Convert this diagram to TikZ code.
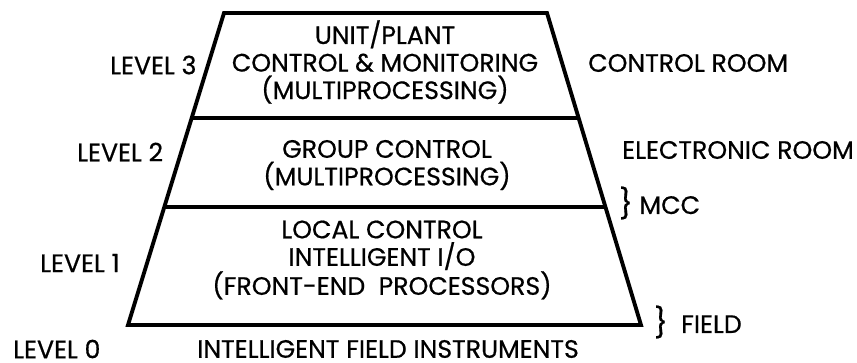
\documentclass[tikz,border=0pt]{standalone}
\usepackage{fontspec}
\setmainfont{Poppins}[FakeBold=0.6]
\usetikzlibrary{calc}
\tikzset{>=latex}
\tikzset{
  txt/.style={font=\fontsize{21.5}{23.5}\selectfont, inner sep=0pt},
  lvl/.style={txt, align=center},
  side/.style={txt, anchor=west},
  wall/.style={line width=3.3pt, line join=miter}
}
\newcommand{\bigbrace}{{\fontsize{25}{25}\selectfont\}}}

\begin{document}
\begin{tikzpicture}[x=0.03cm, y=-0.03cm]
    \useasboundingbox (0,0) rectangle (857,363);

    % corners of the pyramid
    \coordinate (tl) at (224,13);
    \coordinate (tr) at (547,13);
    \coordinate (br) at (641,325);
    \coordinate (bl) at (128,325);
    % where the level boundaries meet the slanted sides
    \coordinate (l32) at ($(tl)!0.3365!(bl)$);
    \coordinate (r32) at ($(tr)!0.3365!(br)$);
    \coordinate (l21) at ($(tl)!0.6218!(bl)$);
    \coordinate (r21) at ($(tr)!0.6218!(br)$);

    \draw[wall] (tl) -- (tr) -- (br) -- (bl) -- cycle;
    \draw[wall] (l32) -- (r32);
    \draw[wall] (l21) -- (r21);

    % what runs at each level
    \node[lvl] (unit) at (385,62) {UNIT/PLANT\\CONTROL \& MONITORING\\(MULTIPROCESSING)};
    \node[lvl] (group) at (387,165) {GROUP CONTROL\\(MULTIPROCESSING)};
    \node[lvl] (local) at (382,260) {LOCAL CONTROL\\INTELLIGENT I/O\\(FRONT-END\ \ PROCESSORS)};
    \node[side] (instr) at (197,349) {INTELLIGENT FIELD INSTRUMENTS};

    % level numbers on the left
    \node[side] (lv3) at (110,65) {LEVEL 3};
    \node[side] (lv2) at (77,152) {LEVEL 2};
    \node[side] (lv1) at (40,263) {LEVEL 1};
    \node[side] (lv0) at (13,349) {LEVEL 0};

    % locations on the right
    \node[side] (croom) at (588,63) {CONTROL ROOM};
    \node[side] (eroom) at (622,150) {ELECTRONIC ROOM};
    \node[side] (mcc) at (619,203) {\bigbrace\ MCC};
    \node[side] (field) at (654,322) {\bigbrace\ \ FIELD};
\end{tikzpicture}
\end{document}
